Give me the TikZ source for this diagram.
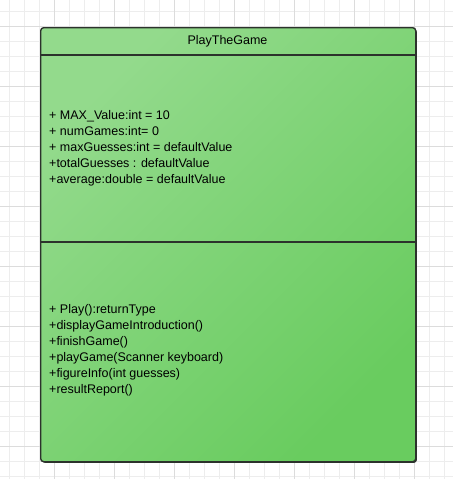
\documentclass[tikz,border=0pt]{standalone}
\usepackage{fontspec}
\setmainfont{Liberation Sans}
\usepackage{xcolor}
\usepackage{tikz}
\usetikzlibrary{positioning}

\definecolor{gridlight}{HTML}{EDEDED}
\definecolor{griddark}{HTML}{DCDCDC}
\definecolor{classtop}{HTML}{93DA8C}
\definecolor{classbot}{HTML}{69CC5F}
\definecolor{classline}{HTML}{2C322C}

\begin{document}
\begin{tikzpicture}[
    x=1pt, y=-1pt,
    gridline/.style={draw=gridlight, line width=0.9pt},
    gridmajor/.style={draw=griddark, line width=0.9pt},
    classbox/.style={draw=classline, line width=1.4pt, rounded corners=3pt, inner sep=0pt,
        preaction={fill=classline, transform canvas={xshift=1.2pt, yshift=-1.2pt}},
        top color=classtop, bottom color=classbot, shading angle=45},
    classsep/.style={draw=classline, line width=1.4pt},
    classtitle/.style={font=\fontsize{12.5}{16}\selectfont, inner sep=0pt},
    members/.style={align=left, font=\fontsize{12.5}{16}\selectfont, inner sep=0pt}
]
    \useasboundingbox (0,0) rectangle (453,479);

    % background grid
    \foreach \gx in {9.3,24.3,...,453} \draw[gridline] (\gx,0) -- (\gx,479);
    \foreach \gy in {11,26,...,479} \draw[gridline] (0,\gy) -- (453,\gy);
    \foreach \gx in {54.3,114.3,...,453} \draw[gridmajor] (\gx,0) -- (\gx,479);
    \foreach \gy in {26,86,...,479} \draw[gridmajor] (0,\gy) -- (453,\gy);

    % class PlayTheGame
    \node[classbox, minimum width=375, minimum height=434, anchor=north west] (class) at (40,27) {};
    \node[classtitle, anchor=base] (title) at (227.5,44) {PlayTheGame};

    \coordinate (sepA) at (0,55);
    \coordinate (sepB) at (0,242);
    \draw[classsep] (class.west |- sepA) -- (class.east |- sepA);
    \draw[classsep] (class.west |- sepB) -- (class.east |- sepB);

    \node[members, anchor=north west] (attrs) at (49,110) {%
        + MAX\_Value:int = 10\\
        + numGames:int= 0\\
        + maxGuesses:int = defaultValue\\
        +totalGuesses : defaultValue\\
        +average:double = defaultValue};

    \node[members, anchor=north west] (methods) at (49,304.7) {%
        + Play():returnType\\
        +displayGameIntroduction()\\
        +finishGame()\\
        +playGame(Scanner keyboard)\\
        +figureInfo(int guesses)\\
        +resultReport()};
\end{tikzpicture}
\end{document}
